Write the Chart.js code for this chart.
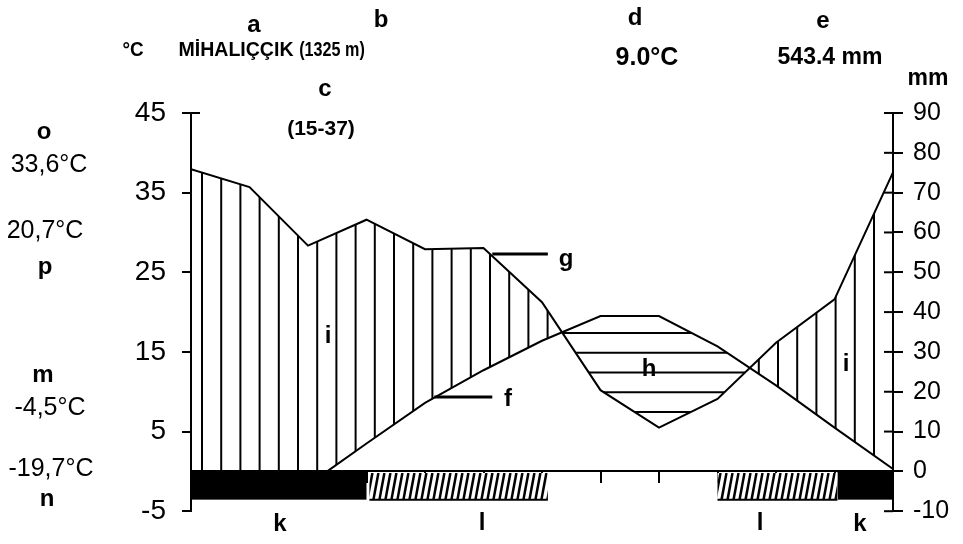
<!DOCTYPE html>
<html>
<head>
<meta charset="utf-8">
<title>Mihalıççık climate diagram</title>
<script src="https://cdn.jsdelivr.net/npm/chart.js@4.4.1/dist/chart.umd.min.js"></script>
<style>
  html, body { margin: 0; padding: 0; background: #fff; }
  #wrap { position: relative; width: 963px; height: 544px; overflow: hidden; }
  #chart { position: absolute; left: 0; top: 0; }
  .lbl {
    position: absolute;
    font-family: "Liberation Sans", Arial, sans-serif;
    color: #000;
    white-space: nowrap;
    line-height: 1;
    transform: translate(-50%, -50%);
  }
  .key { font-weight: bold; font-size: 24px; }
  .head { font-weight: bold; font-size: 21px; }
  .val { font-size: 25px; }
</style>
</head>
<body>
<div id="wrap">
  <canvas id="chart" width="963" height="544"></canvas>

  <div class="lbl head" style="left:133px;top:48px;transform:translate(-50%,-50%) scaleX(0.9)">°C</div>
  <div class="lbl key" style="left:254px;top:24px">a</div>
  <div class="lbl head" style="left:236px;top:48px;transform:translate(-50%,-50%) scaleX(0.93)">MİHALIÇÇIK</div>
  <div class="lbl key" style="left:381px;top:19px">b</div>
  <div class="lbl head" style="left:332px;top:48px;transform:translate(-50%,-50%) scaleX(0.77)">(1325 m)</div>
  <div class="lbl key" style="left:325px;top:88px">c</div>
  <div class="lbl head" style="left:321px;top:127px">(15-37)</div>
  <div class="lbl key" style="left:635px;top:17px">d</div>
  <div class="lbl head" style="left:647px;top:56px;font-size:25px">9.0°C</div>
  <div class="lbl key" style="left:823px;top:20px">e</div>
  <div class="lbl head" style="left:830px;top:56px;font-size:23px">543.4 mm</div>
  <div class="lbl head" style="left:928px;top:77px;font-size:23px">mm</div>

  <div class="lbl key" style="left:44px;top:131px">o</div>
  <div class="lbl val" style="left:49px;top:163px">33,6°C</div>
  <div class="lbl val" style="left:45px;top:229px">20,7°C</div>
  <div class="lbl key" style="left:45px;top:266px">p</div>
  <div class="lbl key" style="left:43px;top:374px">m</div>
  <div class="lbl val" style="left:50px;top:406px">-4,5°C</div>
  <div class="lbl val" style="left:51px;top:467px">-19,7°C</div>
  <div class="lbl key" style="left:47px;top:498px">n</div>

  <div class="lbl key" style="left:566px;top:258px">g</div>
  <div class="lbl key" style="left:508px;top:398px">f</div>
  <div class="lbl key" style="left:649px;top:368px">h</div>
  <div class="lbl key" style="left:328px;top:335px">i</div>
  <div class="lbl key" style="left:846px;top:363px">i</div>
  <div class="lbl key" style="left:280px;top:523px">k</div>
  <div class="lbl key" style="left:482px;top:522px">l</div>
  <div class="lbl key" style="left:760px;top:522px">l</div>
  <div class="lbl key" style="left:860px;top:523px">k</div>
</div>

<script>
// month boundaries (Jan start .. Dec end)
const monthEdges = [0, 1, 2, 3, 4, 5, 6, 7, 8, 9, 10, 11, 12];
const precipMm = [75.9, 71.4, 56.7, 63.2, 55.8, 56.1, 42.5, 20.4, 11.0, 18.2, 32.3, 43.2, 75.1];
const tempC = [-2.0, -2.6, -1.7, 3.5, 8.6, 12.7, 16.4, 19.5, 19.5, 15.7, 10.8, 5.5, 0.3];

const tempTicks = [-5, 5, 15, 25, 35, 45];
const precipTicks = [-10, 0, 10, 20, 30, 40, 50, 60, 70, 80, 90];

// frost bars under the zero line, in months
const frostSpans = [[0, 3.0], [11.05, 12]];
const likelyFrostSpans = [[3.05, 6.1], [9.0, 11.05]];
const barBottomC = -3.55;

// leader lines for the g and f labels: [fromMonth, toMonth, tempC]
const leaderLines = [[5.15, 6.1, 27.3], [4.16, 5.15, 9.35]];

function makePattern(w, h, draw) {
  const c = document.createElement('canvas');
  c.width = w;
  c.height = h;
  const g = c.getContext('2d');
  g.strokeStyle = '#000';
  g.lineWidth = 2;
  draw(g);
  return g.createPattern(c, 'repeat');
}

// vertical hatching (humid) and horizontal hatching (arid)
const vHatch = makePattern(96, 4, g => {
  for (let k = 0; k < 5; k++) {
    const x = 10 + 19.2 * k;
    g.beginPath(); g.moveTo(x, 0); g.lineTo(x, 4); g.stroke();
  }
});
const hHatch = makePattern(4, 79, g => {
  for (let k = 0; k < 4; k++) {
    const y = 17 + 19.75 * k;
    g.beginPath(); g.moveTo(0, y); g.lineTo(4, y); g.stroke();
  }
});

const frostBars = {
  id: 'frostBars',
  afterDatasetsDraw(chart) {
    const { ctx, scales: { x, y } } = chart;
    const top = y.getPixelForValue(0);
    const bottom = y.getPixelForValue(barBottomC);
    ctx.save();
    ctx.fillStyle = '#000';
    frostSpans.forEach(([a, b]) => {
      const x0 = x.getPixelForValue(a), x1 = x.getPixelForValue(b);
      ctx.fillRect(x0, top, x1 - x0, bottom - top);
    });
    likelyFrostSpans.forEach(([a, b]) => {
      const x0 = x.getPixelForValue(a), x1 = x.getPixelForValue(b);
      const t = y.getPixelForValue(-0.2);
      ctx.fillStyle = '#fff';
      ctx.fillRect(x0, t, x1 - x0, bottom - t);
      ctx.save();
      ctx.beginPath();
      ctx.rect(x0, t, x1 - x0, bottom - t);
      ctx.clip();
      ctx.strokeStyle = '#000';
      ctx.lineWidth = 2.5;
      for (let px = x0 - 8; px < x1; px += 6) {
        ctx.beginPath();
        ctx.moveTo(px, bottom);
        ctx.lineTo(px + 5, t);
        ctx.stroke();
      }
      ctx.restore();
      ctx.lineWidth = 2;
      ctx.beginPath();
      ctx.moveTo(x0, bottom);
      ctx.lineTo(x1, bottom);
      ctx.stroke();
    });
    ctx.restore();
  }
};

const extras = {
  id: 'extras',
  afterDraw(chart) {
    const { ctx, scales: { x, y, y1 } } = chart;
    ctx.save();
    ctx.strokeStyle = '#000';
    ctx.lineWidth = 2;
    // inner half of the right axis ticks
    y1.ticks.forEach(t => {
      const py = y1.getPixelForValue(t.value);
      ctx.beginPath();
      ctx.moveTo(y1.left - 9, py);
      ctx.lineTo(y1.left, py);
      ctx.stroke();
    });
    // top tick of the left axis crosses it
    const pt = y.getPixelForValue(y.max);
    ctx.beginPath();
    ctx.moveTo(y.right, pt);
    ctx.lineTo(y.right + 9, pt);
    ctx.stroke();
    // label leader lines
    ctx.lineWidth = 3;
    leaderLines.forEach(([a, b, v]) => {
      const py = y.getPixelForValue(v);
      ctx.beginPath();
      ctx.moveTo(x.getPixelForValue(a), py);
      ctx.lineTo(x.getPixelForValue(b), py);
      ctx.stroke();
    });
    ctx.restore();
  }
};

new Chart(document.getElementById('chart'), {
  type: 'line',
  data: {
    datasets: [
      {
        label: 'Precipitation (mm)',
        data: monthEdges.map((m, i) => ({ x: m, y: precipMm[i] })),
        yAxisID: 'y1',
        borderColor: '#000',
        borderWidth: 2,
        pointRadius: 0,
        tension: 0,
        fill: { target: 1, above: vHatch, below: hHatch }
      },
      {
        label: 'Temperature (°C)',
        data: monthEdges.map((m, i) => ({ x: m, y: tempC[i] })),
        yAxisID: 'y',
        borderColor: '#000',
        borderWidth: 2,
        pointRadius: 0,
        tension: 0,
        fill: false
      }
    ]
  },
  options: {
    responsive: false,
    animation: false,
    events: [],
    layout: { padding: { top: 113, bottom: 27, left: 0, right: 0 } },
    plugins: {
      legend: { display: false },
      tooltip: { enabled: false },
      filler: { drawTime: 'beforeDatasetsDraw' }
    },
    scales: {
      x: {
        type: 'linear',
        min: 0,
        max: 12,
        position: { y: 0 },
        ticks: { display: false, stepSize: 1 },
        grid: { drawOnChartArea: false, drawTicks: true, tickLength: 11, color: '#000', lineWidth: 2 },
        border: { display: true, color: '#000', width: 2 }
      },
      y: {
        position: 'left',
        min: -5,
        max: 45,
        afterBuildTicks: s => { s.ticks = tempTicks.map(v => ({ value: v })); },
        afterFit: s => { s.width = 191; },
        ticks: {
          color: '#000',
          padding: 16,
          font: { family: 'Liberation Sans', size: 28 }
        },
        grid: { drawOnChartArea: false, drawTicks: true, tickLength: 9, color: '#000', lineWidth: 2 },
        border: { display: true, color: '#000', width: 2 }
      },
      y1: {
        position: 'right',
        min: -10,
        max: 90,
        afterBuildTicks: s => { s.ticks = precipTicks.map(v => ({ value: v })); },
        afterFit: s => { s.width = 70; },
        ticks: {
          color: '#000',
          padding: 10,
          font: { family: 'Liberation Sans', size: 25 }
        },
        grid: { drawOnChartArea: false, drawTicks: true, tickLength: 10, color: '#000', lineWidth: 2 },
        border: { display: true, color: '#000', width: 2 }
      }
    }
  },
  plugins: [frostBars, extras]
});
</script>
</body>
</html>
